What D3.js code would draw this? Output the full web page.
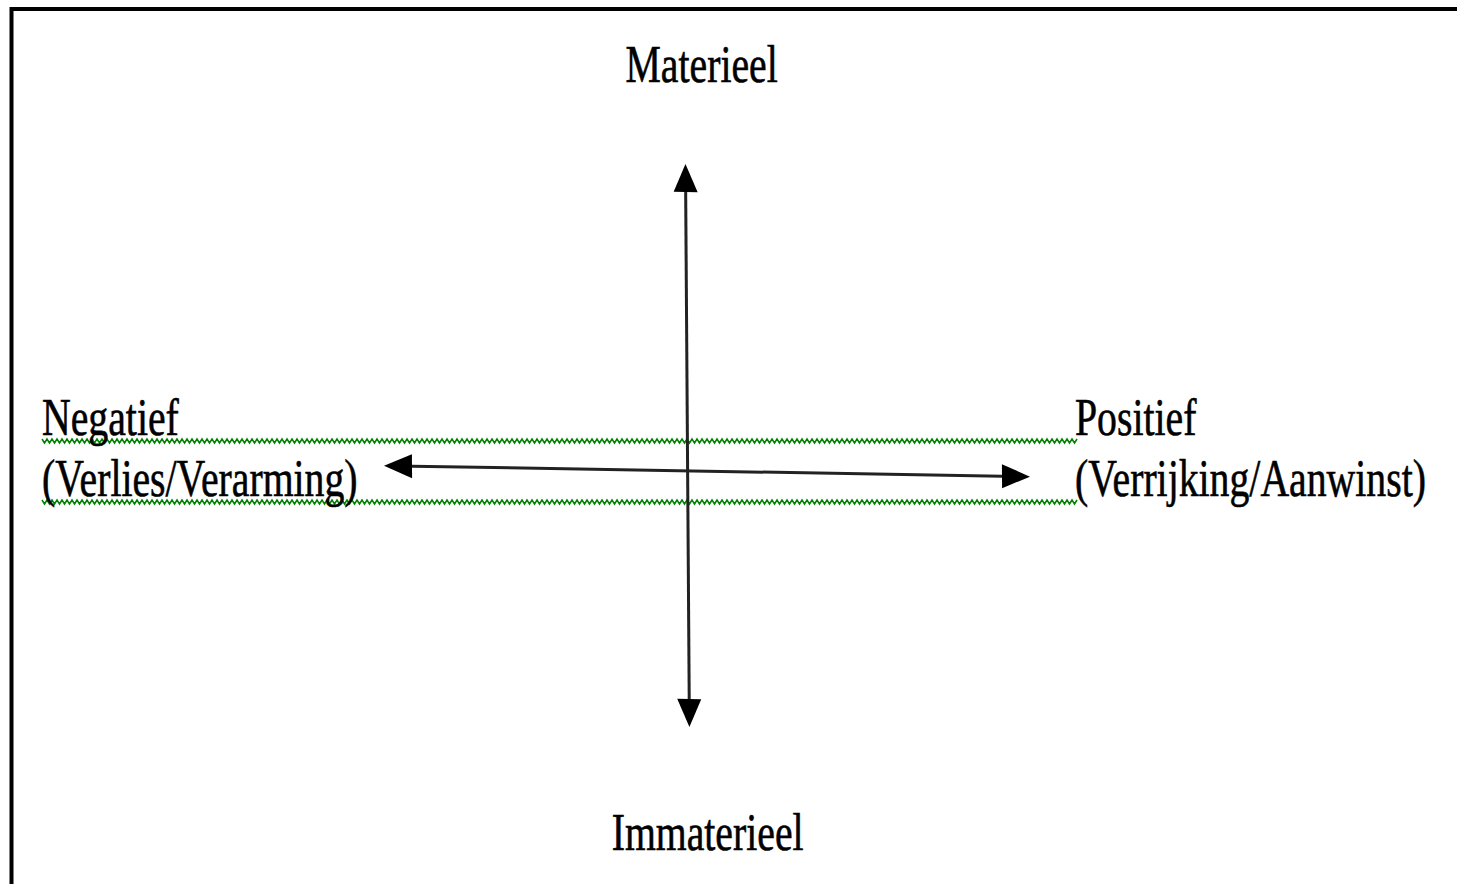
<!DOCTYPE html>
<html>
<head>
<meta charset="utf-8">
<script src="https://cdn.jsdelivr.net/npm/d3@7"></script>
<style>
  html, body { margin: 0; padding: 0; background: #fff; }
  svg { display: block; }
  text { font-family: "Liberation Serif", "Times New Roman", serif; fill: #000; }
</style>
</head>
<body>
<div id="chart"></div>
<script>
// axis labels (top / bottom, left / right)
var verticalLabels = ['Materieel', 'Immaterieel']
var horizontalLabels = ['Negatief', 'Positief']
var horizontalSubLabels = ['(Verlies/Verarming)', '(Verrijking/Aanwinst)']
var axisDomain = [-1, 1]
// where the two axes cross, in axis units
var crossing = [-0.06, -0.09]

var width = 1457
var height = 884

var svg = d3.select('#chart').append('svg')
    .attr('width', width)
    .attr('height', height)

var x = d3.scaleLinear().domain(axisDomain).range([384, 1030])
var y = d3.scaleLinear().domain(axisDomain).range([727, 164])

// frame (only top and left edges show)
svg.append('path')
    .attr('d', 'M11.5,' + height + ' V9 H' + width)
    .attr('fill', 'none')
    .attr('stroke', '#000')
    .attr('stroke-width', 4)

// green wavy underlines
function wave(x0, x1, y0) {
    var pts = []
    var step = 2.5
    for (var i = 0, xx = x0; xx <= x1; xx += step, i++) {
        pts.push([xx, y0 + (i % 2 === 0 ? 0 : 4)])
    }
    return d3.line()(pts)
}
var waveRows = [439, 500]
svg.selectAll('.wave')
    .data(waveRows)
    .enter()
    .append('path')
    .attr('class', 'wave')
    .attr('d', function(d) { return wave(42, 1078, d) })
    .attr('fill', 'none')
    .attr('stroke', '#008000')
    .attr('stroke-width', 1.5)

// axes, slightly skewed like the original
var cx = x(crossing[0])
var cy = y(crossing[1])
var axes = svg.append('g')
    .attr('transform', 'translate(' + cx + ',' + cy + ') matrix(1,0.017,0.007,1,0,0) translate(' + (-cx) + ',' + (-cy) + ')')

var headLen = 28
var headHalf = 12

axes.append('line')
    .attr('x1', cx).attr('x2', cx)
    .attr('y1', y(axisDomain[1]) + headLen).attr('y2', y(axisDomain[0]) - headLen)
    .attr('stroke', '#222')
    .attr('stroke-width', 3)

axes.append('line')
    .attr('x1', x(axisDomain[0]) + headLen).attr('x2', x(axisDomain[1]) - headLen)
    .attr('y1', cy).attr('y2', cy)
    .attr('stroke', '#222')
    .attr('stroke-width', 3)

function head(tipX, tipY, dx, dy) {
    // dx,dy unit direction the arrow points to
    var bx = tipX - dx * headLen, by = tipY - dy * headLen
    var px = -dy * headHalf, py = dx * headHalf
    return 'M' + tipX + ',' + tipY + ' L' + (bx + px) + ',' + (by + py) + ' L' + (bx - px) + ',' + (by - py) + ' Z'
}

var heads = [
    head(cx, y(axisDomain[1]), 0, -1),
    head(cx, y(axisDomain[0]), 0, 1),
    head(x(axisDomain[0]), cy, -1, 0),
    head(x(axisDomain[1]), cy, 1, 0)
]
axes.selectAll('.head')
    .data(heads)
    .enter()
    .append('path')
    .attr('class', 'head')
    .attr('d', function(d) { return d })
    .attr('fill', '#000')

// labels (text is horizontally squeezed in the original)
var fontSize = 53
function label(txt, lx, ly, anchor) {
    svg.append('text')
        .attr('transform', 'translate(' + lx + ',' + ly + ') scale(0.75,1)')
        .attr('text-anchor', anchor)
        .attr('font-size', fontSize)
        .attr('stroke', '#000')
        .attr('stroke-width', 0.6)
        .text(txt)
}

label(verticalLabels[0], cx + 14, y(axisDomain[1]) - 82, 'middle')
label(verticalLabels[1], cx + 20, y(axisDomain[0]) + 123, 'middle')

label(horizontalLabels[0], 42, cy - 36, 'start')
label(horizontalSubLabels[0], 42, cy + 25, 'start')
label(horizontalLabels[1], 1075, cy - 36, 'start')
label(horizontalSubLabels[1], 1075, cy + 25, 'start')
</script>
</body>
</html>
